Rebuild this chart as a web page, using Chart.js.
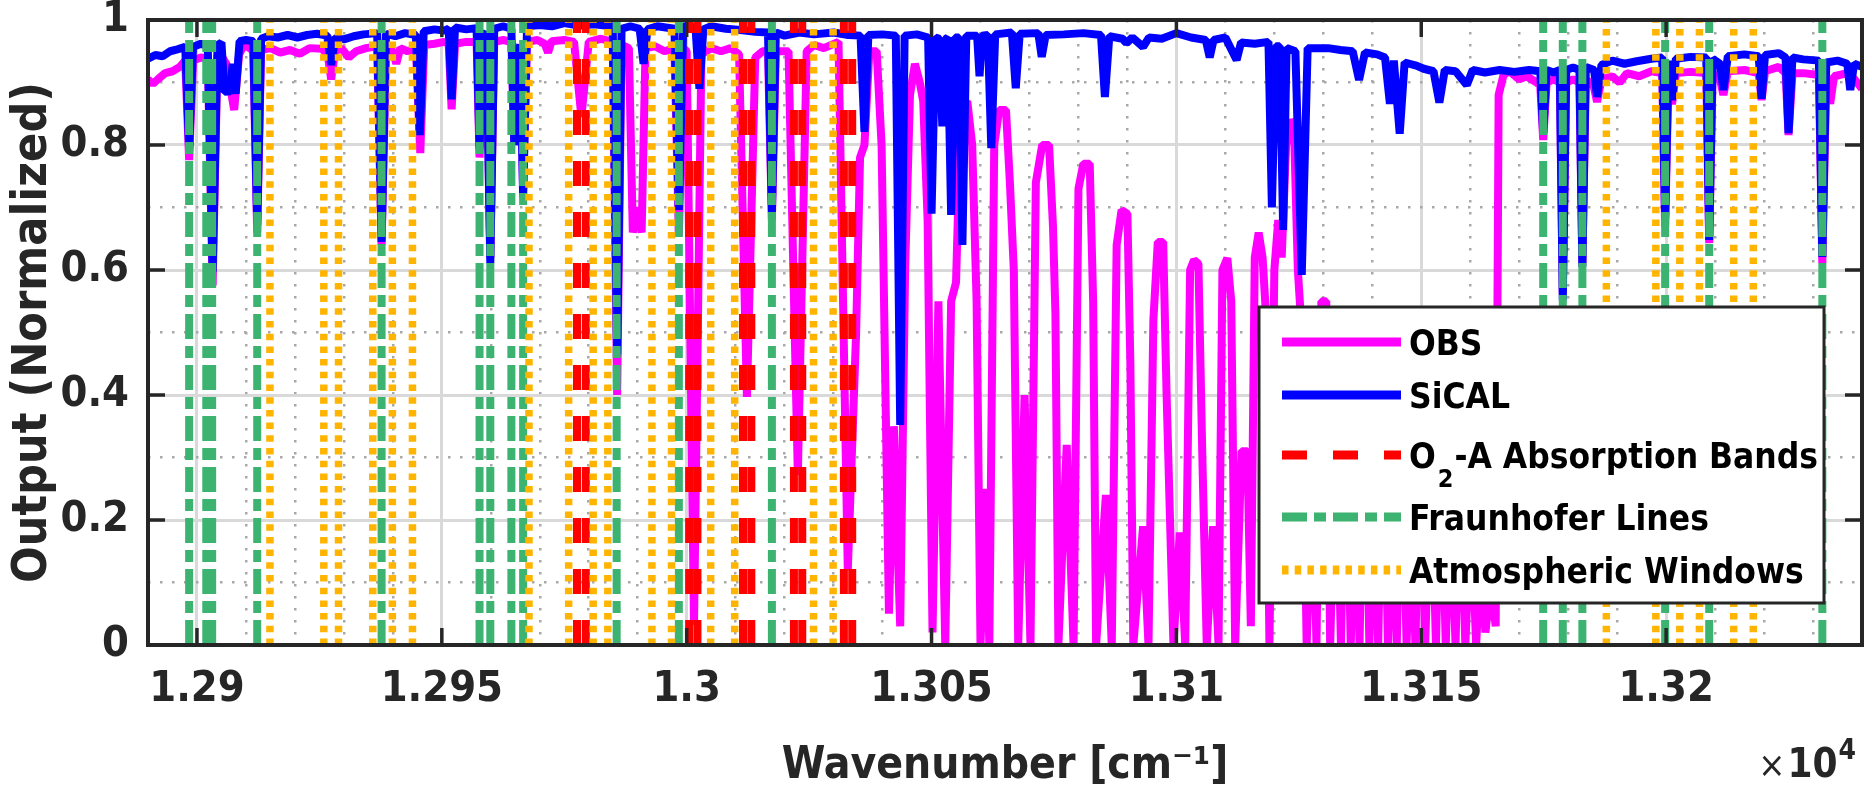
<!DOCTYPE html>
<html>
<head>
<meta charset="utf-8">
<title>OBS vs SiCAL</title>
<script src="https://cdn.jsdelivr.net/npm/chart.js@4.4.1/dist/chart.umd.min.js"></script>
<style>
    html, body { margin: 0; padding: 0; background: #fff; }
</style>
</head>
<body>
<canvas id="spectrumChart" width="1872" height="790"></canvas>
<script>
// wavenumbers [cm-1] and normalized outputs
const obsWn = [12890.0, 12891.0, 12892.0, 12893.5, 12895.0, 12896.5, 12897.6, 12898.4, 12899.2, 12900.8, 12902.2, 12903.2, 12904.2, 12905.2, 12906.0, 12907.6, 12908.6, 12909.6, 12910.8, 12911.5, 12912.3, 12913.1, 12915.0, 12917.0, 12919.0, 12921.0, 12923.0, 12925.5, 12926.7, 12927.4, 12928.2, 12929.5, 12931.0, 12932.5, 12934.5, 12936.8, 12937.7, 12938.6, 12940.0, 12940.7, 12941.5, 12943.0, 12944.7, 12945.6, 12946.4, 12948.5, 12950.5, 12951.4, 12952.0, 12952.7, 12955.0, 12957.1, 12957.7, 12958.4, 12959.1, 12959.9, 12960.7, 12962.5, 12964.2, 12964.8, 12965.5, 12966.0, 12966.6, 12967.4, 12969.5, 12971.0, 12971.7, 12972.4, 12975.0, 12977.0, 12978.5, 12980.0, 12982.5, 12984.9, 12985.8, 12986.7, 12988.2, 12989.0, 12989.9, 12990.8, 12991.6, 12993.5, 12995.5, 12997.5, 12998.4, 12999.3, 13000.0, 13001.5, 13003.0, 13005.0, 13007.0, 13009.0, 13010.7, 13012.3, 13014.0, 13015.5, 13016.6, 13017.4, 13018.2, 13020.8, 13022.7, 13024.5, 13026.0, 13028.0, 13031.0, 13032.9, 13034.6, 13035.4, 13036.3, 13037.3, 13038.8, 13039.8, 13040.6, 13041.3, 13042.3, 13043.6, 13044.6, 13045.6, 13046.6, 13047.6, 13048.3, 13049.2, 13050.2, 13051.4, 13052.8, 13054.0, 13055.0, 13056.0, 13057.3, 13058.3, 13059.2, 13060.0, 13061.0, 13061.8, 13062.8, 13063.8, 13065.2, 13066.0, 13066.8, 13067.7, 13069.0, 13070.2, 13071.3, 13072.6, 13074.0, 13074.8, 13075.3, 13075.9, 13077.6, 13079.0, 13080.0, 13081.0, 13082.3, 13083.0, 13083.6, 13085.6, 13086.8, 13087.8, 13088.8, 13090.0, 13090.6, 13091.2, 13093.2, 13094.3, 13095.3, 13096.2, 13097.3, 13098.0, 13099.4, 13100.7, 13101.8, 13102.8, 13103.6, 13104.5, 13105.3, 13106.2, 13107.5, 13108.6, 13109.4, 13110.4, 13111.2, 13112.0, 13113.3, 13114.5, 13115.2, 13116.0, 13116.8, 13117.6, 13118.2, 13119.0, 13120.0, 13120.8, 13121.5, 13122.4, 13123.3, 13124.0, 13124.8, 13125.6, 13126.6, 13127.8, 13128.6, 13129.6, 13130.6, 13131.4, 13132.6, 13133.6, 13134.6, 13135.6, 13136.6, 13137.4, 13138.4, 13139.4, 13140.4, 13141.2, 13142.2, 13143.2, 13144.2, 13145.0, 13146.0, 13147.0, 13148.0, 13148.8, 13149.8, 13150.8, 13152.0, 13153.0, 13154.0, 13155.0, 13156.0, 13157.0, 13158.0, 13159.0, 13160.2, 13161.2, 13162.2, 13163.1, 13164.2, 13165.2, 13165.8, 13166.8, 13168.0, 13170.0, 13171.5, 13173.6, 13174.3, 13174.9, 13175.6, 13177.0, 13178.3, 13178.9, 13179.6, 13181.0, 13182.3, 13182.9, 13183.6, 13185.2, 13185.9, 13186.8, 13189.0, 13190.5, 13192.0, 13194.5, 13197.0, 13199.2, 13199.8, 13200.5, 13201.2, 13202.0, 13205.0, 13208.2, 13208.8, 13209.5, 13211.0, 13211.7, 13212.6, 13216.0, 13218.9, 13219.5, 13220.2, 13223.0, 13224.4, 13225.0, 13225.8, 13228.0, 13231.2, 13231.9, 13232.7, 13233.5, 13234.3, 13237.0, 13238.5, 13240.0];
const obsVal = [0.905, 0.898, 0.905, 0.915, 0.918, 0.925, 0.935, 0.776, 0.935, 0.940, 0.938, 0.575, 0.944, 0.940, 0.930, 0.856, 0.945, 0.960, 0.955, 0.950, 0.660, 0.952, 0.955, 0.948, 0.952, 0.946, 0.955, 0.954, 0.945, 0.905, 0.950, 0.955, 0.940, 0.950, 0.955, 0.958, 0.640, 0.955, 0.950, 0.930, 0.955, 0.950, 0.955, 0.787, 0.960, 0.962, 0.965, 0.962, 0.857, 0.962, 0.965, 0.965, 0.780, 0.955, 0.960, 0.620, 0.965, 0.968, 0.965, 0.800, 0.935, 0.945, 0.728, 0.965, 0.968, 0.962, 0.948, 0.966, 0.968, 0.965, 0.845, 0.965, 0.970, 0.965, 0.400, 0.960, 0.955, 0.660, 0.700, 0.660, 0.955, 0.958, 0.950, 0.955, 0.654, 0.955, 0.950, 0.032, 0.945, 0.955, 0.950, 0.955, 0.945, 0.397, 0.940, 0.950, 0.950, 0.680, 0.950, 0.950, 0.272, 0.950, 0.960, 0.955, 0.965, 0.120, 0.500, 0.780, 0.800, 0.950, 0.950, 0.800, 0.400, 0.050, 0.350, 0.030, 0.600, 0.880, 0.930, 0.900, 0.870, 0.680, 0.020, 0.550, 0.000, 0.550, 0.580, 0.860, 0.870, 0.800, 0.550, 0.000, 0.250, 0.000, 0.800, 0.856, 0.856, 0.740, 0.600, 0.000, 0.400, 0.000, 0.740, 0.800, 0.800, 0.670, 0.530, 0.000, 0.320, 0.000, 0.730, 0.770, 0.770, 0.550, 0.000, 0.240, 0.000, 0.640, 0.696, 0.690, 0.450, 0.000, 0.190, 0.000, 0.520, 0.645, 0.645, 0.400, 0.000, 0.180, 0.000, 0.600, 0.616, 0.610, 0.300, 0.000, 0.190, 0.000, 0.600, 0.619, 0.550, 0.000, 0.310, 0.310, 0.030, 0.620, 0.660, 0.620, 0.540, 0.000, 0.600, 0.680, 0.620, 0.800, 0.840, 0.830, 0.600, 0.500, 0.000, 0.300, 0.000, 0.550, 0.550, 0.000, 0.350, 0.000, 0.400, 0.000, 0.300, 0.000, 0.450, 0.000, 0.300, 0.000, 0.400, 0.000, 0.280, 0.000, 0.380, 0.000, 0.250, 0.000, 0.350, 0.000, 0.300, 0.000, 0.320, 0.000, 0.250, 0.000, 0.300, 0.000, 0.220, 0.000, 0.150, 0.020, 0.100, 0.030, 0.880, 0.912, 0.918, 0.905, 0.910, 0.900, 0.895, 0.808, 0.900, 0.905, 0.900, 0.563, 0.900, 0.905, 0.900, 0.611, 0.905, 0.895, 0.869, 0.905, 0.910, 0.900, 0.915, 0.910, 0.918, 0.915, 0.669, 0.912, 0.865, 0.915, 0.917, 0.915, 0.643, 0.915, 0.905, 0.880, 0.918, 0.920, 0.915, 0.872, 0.918, 0.925, 0.915, 0.816, 0.915, 0.915, 0.912, 0.611, 0.905, 0.866, 0.910, 0.915, 0.905, 0.890];

const sicalWn = [12890.0, 12891.5, 12893.0, 12894.5, 12896.0, 12897.6, 12898.4, 12899.2, 12900.8, 12902.2, 12903.2, 12904.2, 12905.0, 12905.6, 12906.8, 12907.3, 12907.9, 12908.7, 12910.0, 12911.5, 12912.3, 12913.1, 12914.5, 12916.5, 12918.5, 12920.5, 12922.5, 12924.5, 12926.6, 12927.4, 12928.2, 12930.0, 12932.0, 12934.0, 12936.8, 12937.7, 12938.6, 12940.5, 12942.5, 12944.7, 12945.5, 12946.3, 12948.5, 12950.5, 12951.4, 12952.0, 12952.7, 12955.0, 12957.1, 12957.7, 12958.4, 12959.1, 12959.9, 12960.7, 12962.5, 12964.2, 12964.8, 12965.5, 12966.0, 12966.6, 12967.4, 12970.0, 12972.5, 12975.0, 12978.0, 12981.0, 12984.9, 12985.8, 12986.7, 12988.5, 12990.4, 12991.2, 12992.0, 12994.0, 12997.5, 12998.4, 12999.3, 13001.8, 13002.6, 13003.4, 13005.0, 13008.0, 13011.0, 13014.0, 13016.6, 13017.4, 13018.2, 13020.0, 13023.0, 13026.0, 13030.0, 13033.0, 13035.5, 13036.3, 13037.1, 13040.0, 13042.7, 13043.6, 13044.5, 13047.0, 13049.3, 13050.0, 13050.8, 13051.6, 13052.2, 13052.9, 13053.3, 13054.0, 13054.8, 13055.6, 13056.3, 13057.1, 13059.3, 13059.8, 13060.3, 13061.5, 13062.2, 13063.0, 13066.4, 13067.2, 13068.0, 13071.8, 13072.5, 13073.3, 13077.0, 13081.0, 13084.6, 13085.4, 13086.3, 13089.0, 13089.8, 13091.0, 13093.2, 13094.4, 13097.0, 13100.0, 13103.0, 13106.0, 13106.8, 13107.6, 13110.0, 13112.3, 13113.2, 13116.0, 13118.8, 13119.5, 13120.3, 13121.1, 13121.8, 13122.5, 13124.3, 13125.6, 13126.8, 13129.0, 13131.0, 13133.5, 13136.0, 13137.3, 13138.5, 13141.0, 13142.6, 13143.6, 13144.4, 13145.6, 13146.6, 13149.0, 13150.5, 13152.5, 13153.7, 13154.8, 13157.0, 13159.3, 13160.5, 13163.0, 13166.0, 13169.0, 13172.0, 13174.3, 13174.9, 13175.6, 13177.0, 13178.3, 13178.9, 13179.6, 13181.0, 13182.3, 13182.9, 13183.6, 13185.3, 13185.9, 13186.8, 13189.0, 13191.5, 13194.0, 13197.0, 13199.2, 13199.8, 13200.5, 13201.2, 13202.0, 13205.0, 13208.2, 13208.8, 13209.5, 13211.0, 13211.7, 13212.6, 13216.0, 13218.9, 13219.5, 13220.2, 13223.0, 13224.4, 13225.0, 13225.8, 13228.0, 13231.2, 13231.9, 13232.7, 13235.0, 13237.0, 13237.6, 13238.4, 13240.0];
const sicalVal = [0.938, 0.944, 0.942, 0.950, 0.953, 0.957, 0.795, 0.957, 0.962, 0.958, 0.597, 0.960, 0.964, 0.885, 0.886, 0.930, 0.882, 0.966, 0.968, 0.966, 0.672, 0.970, 0.974, 0.972, 0.976, 0.972, 0.976, 0.978, 0.975, 0.928, 0.972, 0.969, 0.974, 0.977, 0.979, 0.645, 0.978, 0.974, 0.979, 0.976, 0.816, 0.982, 0.985, 0.983, 0.986, 0.873, 0.988, 0.985, 0.987, 0.795, 0.975, 0.980, 0.611, 0.986, 0.990, 0.986, 0.800, 0.950, 0.960, 0.716, 0.990, 0.992, 0.990, 0.995, 0.991, 0.993, 0.990, 0.465, 0.986, 0.990, 0.986, 0.930, 0.985, 0.990, 0.986, 0.696, 0.990, 0.988, 0.890, 0.985, 0.990, 0.986, 0.984, 0.981, 0.980, 0.693, 0.980, 0.975, 0.980, 0.977, 0.980, 0.976, 0.975, 0.821, 0.976, 0.977, 0.975, 0.352, 0.975, 0.977, 0.972, 0.690, 0.972, 0.970, 0.830, 0.970, 0.972, 0.688, 0.972, 0.972, 0.640, 0.975, 0.975, 0.910, 0.975, 0.976, 0.795, 0.977, 0.980, 0.891, 0.978, 0.979, 0.941, 0.976, 0.977, 0.979, 0.976, 0.877, 0.974, 0.970, 0.963, 0.972, 0.957, 0.972, 0.970, 0.979, 0.972, 0.968, 0.940, 0.968, 0.972, 0.936, 0.964, 0.962, 0.965, 0.700, 0.958, 0.958, 0.664, 0.955, 0.950, 0.592, 0.955, 0.955, 0.955, 0.952, 0.950, 0.904, 0.948, 0.945, 0.940, 0.866, 0.935, 0.818, 0.932, 0.927, 0.922, 0.918, 0.868, 0.920, 0.918, 0.896, 0.920, 0.916, 0.920, 0.917, 0.920, 0.918, 0.819, 0.920, 0.916, 0.920, 0.552, 0.920, 0.924, 0.920, 0.605, 0.925, 0.920, 0.877, 0.928, 0.935, 0.930, 0.934, 0.938, 0.940, 0.683, 0.935, 0.872, 0.938, 0.941, 0.940, 0.648, 0.938, 0.930, 0.888, 0.942, 0.945, 0.942, 0.874, 0.944, 0.947, 0.940, 0.819, 0.940, 0.937, 0.935, 0.621, 0.932, 0.935, 0.930, 0.888, 0.930, 0.925];

// marker line positions [cm-1]
const o2Bands = [12977.6, 12979.4, 13000.5, 13002.2, 13011.5, 13013.2, 13021.9, 13023.6, 13032.1, 13033.8];
const fraunhoferLines = [12898.4, 12901.9, 12903.1, 12912.3, 12937.7, 12957.7, 12959.9, 12964.2, 12966.6, 12985.7, 12998.4, 13017.4, 13174.9, 13178.9, 13182.9, 13199.8, 13208.8, 13231.9];
const atmWindows = [12914.9, 12925.9, 12928.9, 12935.9, 12939.9, 12944.0, 12967.8, 12975.9, 12980.9, 12983.9, 12992.9, 12996.9, 13004.9, 13009.8, 13025.9, 13029.9, 13187.8, 13197.9, 13202.8, 13206.8, 13213.8, 13217.8];

const xTickValues = [12900, 12950, 13000, 13050, 13100, 13150, 13200];
const xTickLabels = ['1.29', '1.295', '1.3', '1.305', '1.31', '1.315', '1.32'];
const yTickValues = [0, 0.2, 0.4, 0.6, 0.8, 1];
const yTickLabels = ['0', '0.2', '0.4', '0.6', '0.8', '1'];

const AXIS_COLOR = '#262626';
const FONT = "'DejaVu Sans Condensed', 'DejaVu Sans', sans-serif";
const MAJOR_GRID = '#d9d9d9';
const MINOR_GRID = '#a8a8a8';
const TICK_LEN = 17;

function findTick(values, v) {
    return values.findIndex(t => Math.abs(t - v) < 1e-6);
}

function toPoints(xs, ys) {
    return xs.map((x, i) => ({ x: x, y: ys[i] }));
}

// one segment per marker, separated by gaps
function verticalLines(positions) {
    const pts = [];
    positions.forEach(p => {
        pts.push({ x: p, y: 0 }, { x: p, y: 1 }, { x: p, y: null });
    });
    return pts;
}

const frameAndTicks = {
    id: 'frameAndTicks',
    afterDatasetsDraw(chart) {
        const { ctx, chartArea: a, scales: { x, y } } = chart;
        ctx.save();
        ctx.strokeStyle = AXIS_COLOR;
        ctx.lineWidth = 3.5;
        ctx.beginPath();
        xTickValues.forEach(v => {
            const px = x.getPixelForValue(v);
            ctx.moveTo(px, a.bottom); ctx.lineTo(px, a.bottom - TICK_LEN);
            ctx.moveTo(px, a.top); ctx.lineTo(px, a.top + TICK_LEN);
        });
        yTickValues.forEach(v => {
            const py = y.getPixelForValue(v);
            ctx.moveTo(a.left, py); ctx.lineTo(a.left + TICK_LEN, py);
            ctx.moveTo(a.right, py); ctx.lineTo(a.right - TICK_LEN, py);
        });
        ctx.stroke();
        ctx.lineWidth = 4;
        ctx.strokeRect(a.left, a.top, a.right - a.left, a.bottom - a.top);
        ctx.restore();
    }
};

const insetLegend = {
    id: 'insetLegend',
    afterDraw(chart) {
        const { ctx, chartArea: a } = chart;
        const left = a.right - 603, top = a.top + 287, width = 565, height = 296;
        const rows = [35, 88, 148, 210, 263];
        const fontSize = 35;
        ctx.save();
        ctx.fillStyle = '#ffffff';
        ctx.fillRect(left, top, width, height);
        ctx.strokeStyle = AXIS_COLOR;
        ctx.lineWidth = 3;
        ctx.strokeRect(left, top, width, height);

        chart.data.datasets.forEach((ds, i) => {
            const yRow = top + rows[i];
            ctx.strokeStyle = ds.borderColor;
            ctx.lineWidth = 9;
            ctx.setLineDash(ds.borderDash || []);
            ctx.beginPath();
            ctx.moveTo(left + 23, yRow);
            ctx.lineTo(left + 142, yRow);
            ctx.stroke();
            ctx.setLineDash([]);

            ctx.fillStyle = '#000000';
            ctx.textBaseline = 'alphabetic';
            ctx.textAlign = 'left';
            const base = yRow + fontSize * 0.365;
            let tx = left + 150;
            const parts = ds.label.split('₂');
            ctx.font = 'bold ' + fontSize + 'px ' + FONT;
            ctx.fillText(parts[0], tx, base);
            if (parts.length > 1) {
                tx += ctx.measureText(parts[0]).width;
                ctx.font = 'bold ' + Math.round(fontSize * 0.7) + 'px ' + FONT;
                ctx.fillText('2', tx + 2, base + 19);
                tx += ctx.measureText('2').width + 3;
                ctx.font = 'bold ' + fontSize + 'px ' + FONT;
                ctx.fillText(parts[1], tx, base);
            }
        });

        // exponent of the x axis
        const xr = a.right - 6, yb = a.bottom + 132;
        ctx.fillStyle = AXIS_COLOR;
        ctx.font = 'bold 28px ' + FONT;
        const w4 = ctx.measureText('4').width;
        ctx.fillText('4', xr - w4, yb - 18);
        ctx.font = 'bold 40px ' + FONT;
        const w10 = ctx.measureText('10').width;
        ctx.fillText('10', xr - w4 - w10 - 1, yb);
        ctx.font = '36px ' + FONT;
        const wx = ctx.measureText('×').width;
        ctx.fillText('×', xr - w4 - w10 - wx - 3, yb);
        ctx.restore();
    }
};

document.addEventListener('DOMContentLoaded', () => {
    const ctx = document.getElementById('spectrumChart').getContext('2d');

    new Chart(ctx, {
        type: 'line',
        data: {
            datasets: [
                { label: 'OBS', data: toPoints(obsWn, obsVal), borderColor: '#ff00ff', borderWidth: 8, order: 5 },
                { label: 'SiCAL', data: toPoints(sicalWn, sicalVal), borderColor: '#0000ff', borderWidth: 8, order: 4 },
                { label: 'O₂-A Absorption Bands', data: verticalLines(o2Bands), borderColor: '#ff0000', borderWidth: 8, borderDash: [25, 26], order: 3 },
                { label: 'Fraunhofer Lines', data: verticalLines(fraunhoferLines), borderColor: '#3cb371', borderWidth: 8, borderDash: [25, 7, 12, 7], order: 2 },
                { label: 'Atmospheric Windows', data: verticalLines(atmWindows), borderColor: '#ffb400', borderWidth: 7.5, borderDash: [6.5, 6.2], order: 1 },
            ],
        },
        options: {
            responsive: false,
            animation: false,
            events: [],
            layout: { padding: { top: 20, right: 10, left: 0, bottom: 0 } },
            elements: {
                point: { radius: 0 },
                line: { borderJoinStyle: 'bevel', tension: 0 },
            },
            plugins: {
                legend: { display: false },
                tooltip: { enabled: false },
            },
            scales: {
                x: {
                    type: 'linear',
                    min: 12890,
                    max: 13240,
                    afterFit: (s) => { s.height = 145; },
                    ticks: {
                        stepSize: 10,
                        autoSkip: false,
                        maxRotation: 0,
                        minRotation: 0,
                        padding: 0,
                        color: AXIS_COLOR,
                        font: { family: FONT, size: 43, weight: 'bold' },
                        callback: (v) => {
                            const i = findTick(xTickValues, v);
                            return i >= 0 ? xTickLabels[i] : '';
                        },
                    },
                    grid: {
                        drawTicks: true,
                        tickLength: 19,
                        tickColor: 'rgba(0,0,0,0)',
                        color: (c) => findTick(xTickValues, c.tick.value) >= 0 ? MAJOR_GRID : MINOR_GRID,
                        lineWidth: (c) => findTick(xTickValues, c.tick.value) >= 0 ? 3 : 2.5,
                    },
                    border: {
                        display: false,
                        dash: (c) => findTick(xTickValues, c.tick.value) >= 0 ? [] : [2.5, 9.5],
                    },
                    title: {
                        display: true,
                        text: 'Wavenumber [cm⁻¹]',
                        color: AXIS_COLOR,
                        font: { family: FONT, size: 44, weight: 'bold', lineHeight: 1 },
                        padding: { top: 0, bottom: 1 },
                    },
                },
                y: {
                    min: 0,
                    max: 1,
                    afterFit: (s) => { s.width = 148; },
                    ticks: {
                        stepSize: 0.1,
                        padding: 0,
                        color: AXIS_COLOR,
                        font: { family: FONT, size: 43, weight: 'bold', lineHeight: 0.9 },
                        callback: (v) => {
                            const i = findTick(yTickValues, v);
                            return i >= 0 ? yTickLabels[i] : '';
                        },
                    },
                    grid: {
                        drawTicks: true,
                        tickLength: 19,
                        tickColor: 'rgba(0,0,0,0)',
                        color: (c) => findTick(yTickValues, c.tick.value) >= 0 ? MAJOR_GRID : MINOR_GRID,
                        lineWidth: (c) => findTick(yTickValues, c.tick.value) >= 0 ? 3 : 2.5,
                    },
                    border: {
                        display: false,
                        dash: (c) => findTick(yTickValues, c.tick.value) >= 0 ? [] : [2.5, 9.5],
                    },
                    title: {
                        display: true,
                        text: 'Output (Normalized)',
                        color: AXIS_COLOR,
                        font: { family: FONT, size: 48, weight: 'bold', lineHeight: 1 },
                        padding: { top: 10, bottom: 0 },
                    },
                },
            },
        },
        plugins: [frameAndTicks, insetLegend],
    });
});
</script>
</body>
</html>
